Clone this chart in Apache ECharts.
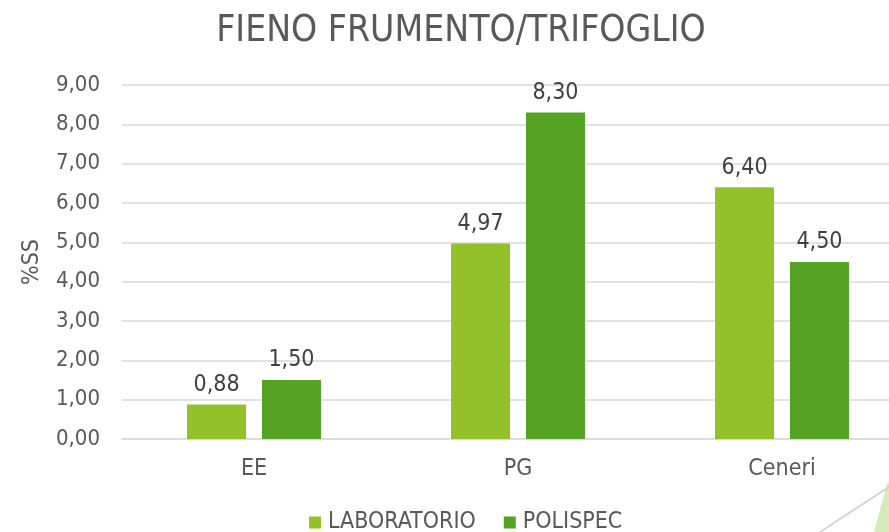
<!DOCTYPE html>
<html>
<head>
<meta charset="utf-8">
<script src="https://cdn.jsdelivr.net/npm/echarts@6/dist/echarts.min.js"></script>
<style>
  html, body { margin: 0; padding: 0; background: #fff; }
  #chart { width: 889px; height: 532px; }
</style>
</head>
<body>
<div id="chart"></div>
<script>
// dati
const categories = ['EE', 'PG', 'Ceneri'];
const laboratorio = [0.88, 4.97, 6.40];
const polispec = [1.50, 8.30, 4.50];
const seriesNames = ['LABORATORIO', 'POLISPEC'];

const FONT = '"DejaVu Sans Condensed", "DejaVu Sans", sans-serif';
const fmt = (v) => v.toFixed(2).replace('.', ',');

const chart = echarts.init(document.getElementById('chart'));

const labelStyle = {
  show: true,
  position: 'top',
  distance: 8,
  fontFamily: FONT,
  fontSize: 23,
  color: '#404040',
  formatter: (p) => fmt(p.value)
};

chart.setOption({
  animation: false,
  title: {
    text: 'FIENO FRUMENTO/TRIFOGLIO',
    left: 456,
    textAlign: 'center',
    top: 8,
    textStyle: { fontFamily: FONT, fontSize: 37, fontWeight: 'normal', color: '#595959' }
  },
  legend: {
    bottom: -7,
    left: 304,
    itemWidth: 12,
    itemHeight: 12,
    itemGap: 28,
    icon: 'rect',
    textStyle: { fontFamily: FONT, fontSize: 23, color: '#595959', padding: [0, 0, 0, 2] },
    data: seriesNames
  },
  // il grafico originale e' tagliato a destra
  grid: { left: 122, top: 85, bottom: 93, width: 792, outerBoundsMode: 'none' },
  xAxis: {
    type: 'category',
    data: categories,
    axisLine: { lineStyle: { color: '#d9d9d9', width: 1.5 } },
    axisTick: { show: false },
    axisLabel: { fontFamily: FONT, fontSize: 23, color: '#595959', margin: 19 }
  },
  yAxis: {
    type: 'value',
    min: 0,
    max: 9,
    interval: 1,
    name: '%SS',
    nameLocation: 'middle',
    nameGap: 78,
    nameTextStyle: { fontFamily: FONT, fontSize: 23, color: '#595959' },
    axisLabel: { fontFamily: FONT, fontSize: 22, color: '#595959', margin: 22, formatter: fmt },
    splitLine: { lineStyle: { color: '#d9d9d9', width: 1.5 } }
  },
  series: [
    {
      name: seriesNames[0],
      type: 'bar',
      data: laboratorio,
      barWidth: 59,
      barGap: '27%',
      itemStyle: { color: '#92c12a' },
      label: labelStyle
    },
    {
      name: seriesNames[1],
      type: 'bar',
      data: polispec,
      barWidth: 59,
      barGap: '27%',
      itemStyle: { color: '#55a123' },
      label: labelStyle
    }
  ],
  graphic: [
    {
      type: 'polygon',
      shape: { points: [[887, 484], [874, 532], [889, 532], [889, 482]] },
      style: { fill: '#d8e9bb' }
    },
    {
      type: 'line',
      shape: { x1: 820, y1: 532, x2: 889, y2: 487 },
      style: { stroke: '#cfcfcf', lineWidth: 1.5 }
    }
  ]
});
</script>
</body>
</html>
